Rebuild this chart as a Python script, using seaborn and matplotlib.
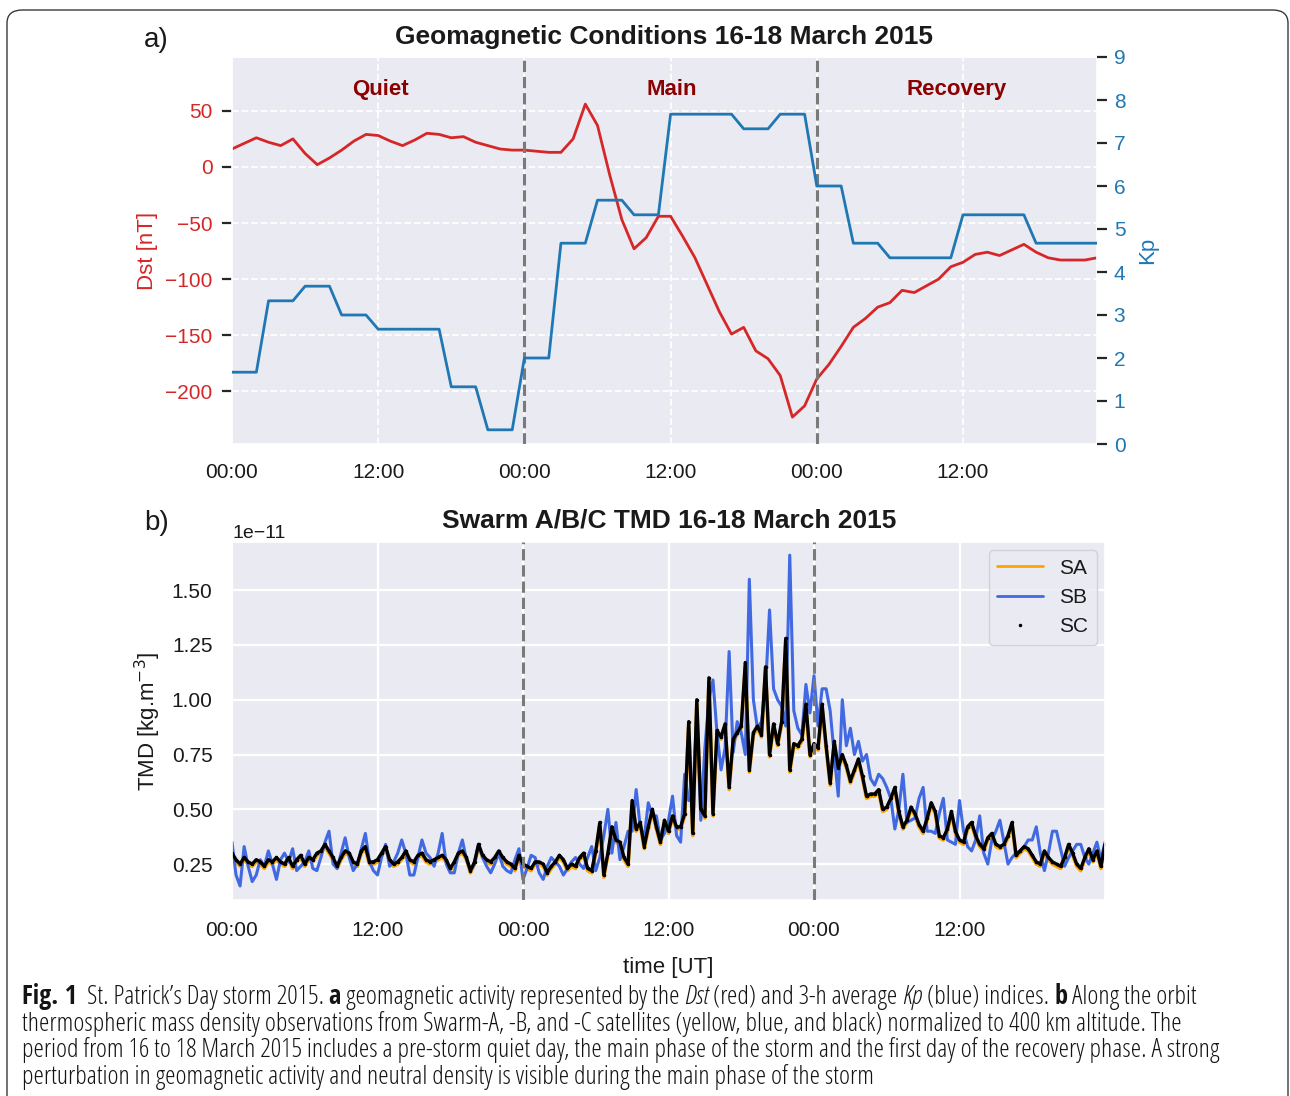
import numpy as np
import pandas as pd
import matplotlib
matplotlib.use("Agg")
import matplotlib.pyplot as plt
import seaborn as sns
from matplotlib.patches import FancyBboxPatch
from matplotlib.lines import Line2D
from matplotlib import font_manager as fm

# ---------------- data ----------------
hours = list(range(72))  # hourly, 16-18 March 2015
dst = [16, 21, 26, 22, 19, 25, 12, 2, 8, 15, 23, 29, 28, 23, 19, 24, 30, 29, 26, 27, 22, 19, 16, 15,
       15, 14, 13, 13, 25, 56, 37, -7, -47, -73, -63, -44, -44, -62, -81, -105, -129, -149, -143, -164,
       -171, -186, -223, -213,
       -189, -176, -160, -143, -135, -125, -121, -110, -112, -106, -100, -89, -85, -78, -76, -79, -74,
       -69, -76, -81, -83, -83, -83, -81]
kp_3h = [1.67, 3.33, 3.67, 3.0, 2.67, 2.67, 1.33, 0.33,
         2.0, 4.67, 5.67, 5.33, 7.67, 7.67, 7.33, 7.67,
         6.0, 4.67, 4.33, 4.33, 5.33, 5.33, 4.67, 4.67]

tmd_step_h = 1.0 / 3.0  # 20-min samples
tmd_scale = 1e-11
sa = [.29, .26, .24, .27, .25, .24, .26, .25, .23, .26, .25, .27,
      .25, .24, .27, .23, .26, .28, .24, .27, .26, .29, .30, .33,
      .30, .27, .23, .27, .30, .29, .25, .24, .30, .32, .25, .25,
      .26, .29, .32, .26, .24, .25, .27, .30, .26, .25, .28, .29,
      .26, .25, .26, .27, .28, .26, .22, .25, .29, .30, .27, .21,
      .25, .33, .28, .26, .25, .27, .30, .27, .25, .24, .22, .28,
      .24, .23, .22, .25, .25, .24, .20, .23, .25, .28, .26, .22,
      .24, .23, .27, .29, .22, .21, .30, .43, .19, .29, .41, .35,
      .34, .27, .24, .53, .40, .43, .32, .41, .49, .41, .34, .44,
      .39, .46, .41, .41, .47, .88, .38, .98, .49, .46, 1.08, .47,
      .85, .82, .88, .59, .81, .84, .87, 1.15, .67, .84, .87, .83,
      1.13, .74, .88, .79, .89, 1.26, .67, .79, .78, .81, .96, .74,
      .79, .77, .96, .78, .61, .80, .68, .74, .69, .62, .67, .72,
      .64, .55, .56, .56, .58, .49, .50, .54, .59, .48, .41, .44,
      .50, .47, .42, .39, .45, .52, .48, .37, .36, .40, .48, .39,
      .35, .34, .41, .43, .37, .33, .31, .36, .38, .33, .32, .33,
      .37, .43, .28, .30, .32, .31, .28, .25, .24, .30, .27, .25,
      .24, .23, .27, .33, .29, .24, .22, .27, .31, .26, .30, .23,
      .33]
sb = [.35, .20, .15, .33, .24, .17, .20, .27, .24, .31, .25, .18,
      .27, .30, .26, .32, .22, .24, .26, .31, .23, .22, .28, .35,
      .40, .25, .23, .30, .37, .28, .22, .25, .32, .39, .26, .22,
      .20, .28, .34, .24, .26, .30, .36, .30, .20, .20, .28, .36,
      .30, .28, .24, .30, .39, .25, .21, .21, .30, .36, .27, .22,
      .25, .34, .28, .24, .21, .25, .30, .24, .22, .21, .27, .32,
      .18, .23, .29, .28, .21, .18, .24, .28, .26, .24, .20, .23,
      .26, .28, .25, .23, .28, .33, .22, .28, .38, .50, .30, .44,
      .27, .33, .40, .40, .59, .42, .37, .53, .47, .47, .36, .39,
      .45, .56, .38, .35, .66, .54, .55, .94, .45, .78, 1.00, 1.09,
      .85, .68, .78, 1.22, .76, .90, .85, .75, 1.55, 1.00, .87, .90,
      1.05, 1.41, 1.05, 1.00, .97, .88, 1.66, .95, .87, .84, 1.07, .94,
      1.11, .88, 1.05, 1.05, .95, .75, .56, 1.00, .79, .87, .75, .81,
      .72, .75, .64, .61, .66, .64, .60, .55, .41, .50, .66, .44,
      .45, .46, .55, .60, .40, .40, .39, .48, .55, .36, .35, .34,
      .54, .40, .33, .31, .36, .47, .30, .25, .36, .40, .45, .35,
      .25, .28, .30, .31, .33, .36, .36, .42, .30, .22, .30, .40,
      .40, .32, .24, .28, .31, .34, .34, .28, .25, .30, .35, .27,
      .35]
sc = [.30, .27, .25, .28, .26, .25, .27, .26, .24, .27, .26, .28,
      .26, .25, .28, .24, .27, .29, .25, .28, .27, .30, .31, .34,
      .31, .28, .24, .28, .31, .30, .26, .25, .31, .33, .26, .26,
      .27, .30, .33, .27, .25, .26, .28, .31, .27, .26, .29, .30,
      .27, .26, .27, .28, .29, .27, .23, .26, .30, .31, .28, .22,
      .26, .34, .29, .27, .26, .28, .31, .28, .26, .25, .23, .29,
      .25, .24, .23, .26, .26, .25, .21, .24, .26, .29, .27, .23,
      .25, .24, .28, .30, .23, .22, .31, .44, .20, .30, .42, .36,
      .35, .28, .25, .54, .41, .44, .33, .42, .50, .42, .35, .45,
      .40, .47, .42, .42, .48, .90, .39, 1.00, .50, .47, 1.10, .48,
      .86, .83, .89, .60, .82, .85, .88, 1.17, .68, .85, .88, .84,
      1.15, .75, .89, .80, .90, 1.28, .68, .80, .79, .82, .98, .75,
      .80, .78, .98, .79, .62, .81, .69, .75, .70, .63, .68, .73,
      .65, .56, .57, .57, .59, .50, .51, .55, .60, .49, .42, .45,
      .51, .48, .43, .40, .46, .53, .49, .38, .37, .41, .49, .40,
      .36, .35, .42, .44, .38, .34, .32, .37, .39, .34, .33, .34,
      .38, .44, .29, .31, .33, .32, .29, .26, .25, .31, .28, .26,
      .25, .24, .28, .34, .30, .25, .23, .28, .32, .27, .31, .24,
      .34]

xtick_hours = [0, 12, 24, 36, 48, 60]
xtick_labels = ["00:00", "12:00", "00:00", "12:00", "00:00", "12:00"]
dst_ticks = [-200, -150, -100, -50, 0, 50]
kp_ticks = list(range(10))
tmd_ticks = [0.25, 0.50, 0.75, 1.00, 1.25, 1.50]
storm_boundaries = [24, 48]
phase_names = ["Quiet", "Main", "Recovery"]
phase_hours = [12.2, 36.1, 59.5]
series_names = ["SA", "SB", "SC"]

caption_lines = [
    [("Fig. 1", "bold", "normal"), ("  St. Patrick\u2019s Day storm 2015. ", "normal", "normal"),
     ("a", "bold", "normal"), (" geomagnetic activity represented by the ", "normal", "normal"),
     ("Dst", "normal", "italic"), (" (red) and 3-h average ", "normal", "normal"),
     ("Kp", "normal", "italic"), (" (blue) indices. ", "normal", "normal"),
     ("b", "bold", "normal"), (" Along the orbit", "normal", "normal")],
    [("thermospheric mass density observations from Swarm-A, -B, and -C satellites (yellow, blue, and black) "
      "normalized to 400 km altitude. The", "normal", "normal")],
    [("period from 16 to 18 March 2015 includes a pre-storm quiet day, the main phase of the storm and the "
      "first day of the recovery phase. A strong", "normal", "normal")],
    [("perturbation in geomagnetic activity and neutral density is visible during the main phase of the storm",
      "normal", "normal")],
]

# ---------------- style ----------------
sns.set_theme(style="darkgrid")
plt.rcParams["font.family"] = ["Liberation Sans", "DejaVu Sans"]
plt.rcParams["text.color"] = "#1a1a1a"
plt.rcParams["xtick.color"] = "#1a1a1a"
plt.rcParams["ytick.color"] = "#1a1a1a"
plt.rcParams["axes.labelcolor"] = "#1a1a1a"

W, H = 1290, 1096
fig = plt.figure(figsize=(W / 100, H / 100), dpi=100)
fig.patch.set_facecolor("white")


def fx(px):
    return px / W


def fy(py):
    return 1 - py / H


RED = "#d62728"
BLUE = "#1f77b4"

# ---------------- panel a ----------------
df_top = pd.DataFrame({"hour": hours, "Dst": dst, "Kp": np.repeat(kp_3h, 3)})

ax1 = fig.add_axes([fx(232), fy(444), (1097 - 232) / W, (444 - 57) / H])
sns.lineplot(data=df_top, x="hour", y="Dst", ax=ax1, color=RED, lw=2.0, estimator=None)
ax1.set_xlim(0, 71)
ax1.set_ylim(-247, 98)
ax1.set_yticks(dst_ticks)
ax1.set_xticks(xtick_hours)
ax1.set_xticklabels(xtick_labels)
ax1.grid(True, ls="--", color="white", lw=1.3)
for b in storm_boundaries:
    ax1.axvline(b, color="#7a7a7a", ls="--", lw=2.2, zorder=3)
ax1.tick_params(axis="y", left=True, length=7, width=1.6, color="#262626", pad=7,
                labelsize=15, labelcolor=RED)
ax1.tick_params(axis="x", bottom=False, labelsize=15, pad=8)
ax1.set_xlabel("")
ax1.set_ylabel("Dst [nT]", color=RED, fontsize=16)
ax1.yaxis.set_label_coords((158 - 232) / 865, 0.5)

for name, h in zip(phase_names, phase_hours):
    ax1.text(h, 0.915, name, transform=ax1.get_xaxis_transform(), ha="center", va="center",
             color="#8b0000", fontsize=16, fontweight="bold")

ax2 = ax1.twinx()
sns.lineplot(data=df_top, x="hour", y="Kp", ax=ax2, color=BLUE, lw=2.0, estimator=None)
ax2.set_ylim(0, 9)
ax2.set_yticks(kp_ticks)
ax2.grid(False)
ax2.tick_params(axis="y", right=True, length=7, width=1.6, color="#262626", pad=5,
                labelsize=15, labelcolor=BLUE)
ax2.set_ylabel("Kp", color=BLUE, fontsize=16)
ax2.yaxis.set_label_coords((1137 - 232) / 865, 0.5)
for sp in ax2.spines.values():
    sp.set_visible(False)

fig.text(fx(664), fy(37), "Geomagnetic Conditions 16-18 March 2015", ha="center", va="center",
         fontsize=19, fontweight="bold")
fig.text(fx(144), fy(40), "a)", ha="left", va="center", fontsize=20)

# ---------------- panel b ----------------
t_tmd = np.arange(len(sc)) * tmd_step_h
df_b = pd.DataFrame({"t": t_tmd,
                     "SA": np.array(sa) * tmd_scale,
                     "SB": np.array(sb) * tmd_scale,
                     "SC": np.array(sc) * tmd_scale})

ax3 = fig.add_axes([fx(232), fy(900), (1105 - 232) / W, (900 - 542) / H])
sns.lineplot(data=df_b, x="t", y="SA", ax=ax3, color="orange", lw=2.6, estimator=None, legend=False)
sns.lineplot(data=df_b, x="t", y="SB", ax=ax3, color="royalblue", lw=2.2, estimator=None, legend=False)
sns.lineplot(data=df_b, x="t", y="SC", ax=ax3, color="black", lw=2.4, estimator=None, legend=False)
ax3.plot(df_b["t"], df_b["SC"], ls="none", marker=".", ms=3, color="black")
ax3.set_xlim(0, 72)
ax3.set_ylim(0.086 * tmd_scale, 1.72 * tmd_scale)
ax3.set_yticks(np.array(tmd_ticks) * tmd_scale)
ax3.set_xticks(xtick_hours)
ax3.set_xticklabels(xtick_labels)
ax3.grid(True, color="white", lw=1.6)
for b in storm_boundaries:
    ax3.axvline(b, color="#7a7a7a", ls="--", lw=2.2, zorder=3)
ax3.tick_params(axis="x", labelsize=15, pad=9)
ax3.tick_params(axis="y", labelsize=15, pad=8)
ax3.yaxis.get_offset_text().set_fontsize(14)
ax3.set_xlabel("time [UT]", fontsize=16, labelpad=12)
ax3.set_ylabel("TMD [kg.m$^{-3}$]", fontsize=16)
ax3.yaxis.set_label_coords((163 - 232) / 873, 0.5)

handles = [Line2D([], [], color="orange", lw=2.0),
           Line2D([], [], color="royalblue", lw=2.0),
           Line2D([], [], color="black", ls="none", marker=".", ms=3)]
ax3.legend(handles, series_names, loc="upper right", fontsize=15, frameon=True,
           borderpad=0.4, labelspacing=0.5, handlelength=2.2, borderaxespad=0.4)

fig.text(fx(669), fy(520), "Swarm A/B/C TMD 16-18 March 2015", ha="center", va="center",
         fontsize=19, fontweight="bold")
fig.text(fx(144), fy(523), "b)", ha="left", va="center", fontsize=20)

# ---------------- border ----------------
border = FancyBboxPatch((fx(7), -0.05), fx(1288) - fx(7), fy(10) + 0.05,
                        boxstyle="round,pad=0,rounding_size=0.012", transform=fig.transFigure,
                        fill=False, ec="#3a3a3a", lw=1.0)
fig.patches.append(border)

# ---------------- caption ----------------
entries = fm.fontManager.ttflist


def wnum(w):
    if isinstance(w, (int, float)):
        return int(w)
    return fm.weight_dict.get(w, 400)


def stretch_name(s):
    return s if isinstance(s, str) else ("condensed" if s < 500 else "normal")


def find_file(fam, stretch, bold, italic):
    best = None
    for f in entries:
        if f.name != fam:
            continue
        if stretch is not None and stretch_name(f.stretch) != stretch:
            continue
        is_it = f.style in ("italic", "oblique")
        if is_it != italic:
            continue
        w = wnum(f.weight)
        if bold and w >= 600:
            if best is None or abs(w - 700) < abs(wnum(best.weight) - 700):
                best = f
        if not bold and w <= 400:
            if best is None or abs(w - 400) < abs(wnum(best.weight) - 400):
                best = f
    return best.fname if best is not None else None


cap_family, cap_stretch = "Open Sans", "normal"
for fam, st in [("Liberation Sans Narrow", "normal"), ("Roboto Condensed", "normal"),
                ("Open Sans Condensed", "normal"), ("Roboto", "condensed"), ("Open Sans", "condensed"),
                ("Noto Sans", "condensed"), ("Open Sans", "semi-condensed"), ("DejaVu Sans", "condensed"),
                ("Open Sans", "normal"), ("Liberation Sans", "normal")]:
    if find_file(fam, st, False, False):
        cap_family, cap_stretch = fam, st
        break

FP = {}
for key, (bold, italic) in {("normal", "normal"): (False, False), ("bold", "normal"): (True, False),
                            ("normal", "italic"): (False, True)}.items():
    tries = [(cap_family, cap_stretch), (cap_family + " Condensed", None),
             (cap_family + " Condensed Bold", None), (cap_family, None)]
    path = None
    for fam, st in tries:
        path = find_file(fam, st, bold, italic)
        if path:
            break
    if path:
        FP[key] = fm.FontProperties(fname=path)
    else:
        FP[key] = fm.FontProperties(family=cap_family, weight="bold" if bold else "normal",
                                    style="italic" if italic else "normal")

renderer = fig.canvas.get_renderer()


def make_text(x, y, s, size, weight, style, **kw):
    fp = FP[(weight, style)].copy()
    fp.set_size(size)
    return fig.text(x, y, s, fontproperties=fp, **kw)


def text_width(s, size, weight="normal", style="normal"):
    t = make_text(0, 0, s, size, weight, style)
    w = t.get_window_extent(renderer).width
    t.remove()
    return w


w10 = text_width(caption_lines[2][0][0], 10)
cap_size = 10 * 1200 / w10


def place_line(segments, y_px, size):
    space = text_width("a a", size) - text_width("aa", size)
    x = 22.0
    for s, weight, style in segments:
        nl = len(s) - len(s.lstrip(" "))
        nt = len(s) - len(s.rstrip(" "))
        core = s.strip(" ")
        x += nl * space
        t = make_text(fx(x), fy(y_px), core, size, weight, style, ha="left", va="center", color="#141414")
        x += t.get_window_extent(renderer).width + nt * space


for line, ypx in zip(caption_lines, [997, 1024, 1050, 1077]):
    place_line(line, ypx, cap_size)

fig.savefig("out.png", dpi=100, facecolor="white")
